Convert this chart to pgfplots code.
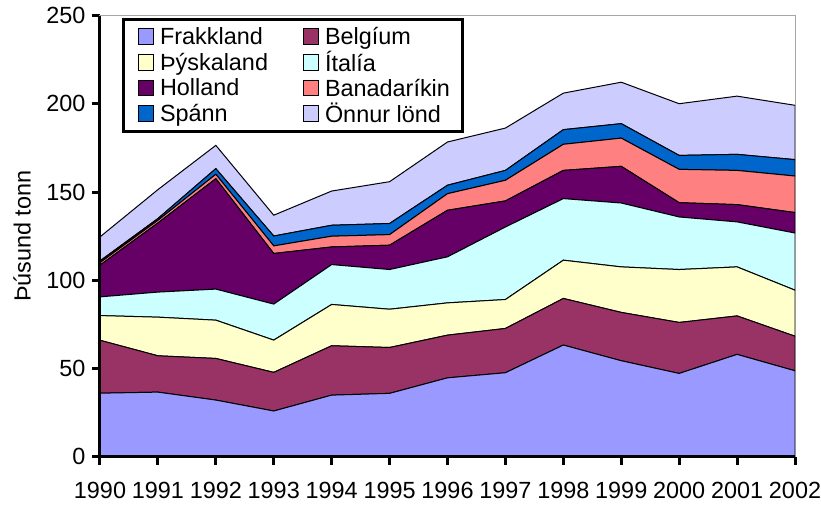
\documentclass[border=0pt]{standalone}
\usepackage{fontspec}
\setmainfont{Liberation Sans}
\usepackage{pgfplots}
\pgfplotsset{compat=1.18}
\usepackage{pgfplotstable}

\definecolor{cF}{HTML}{9999FF}
\definecolor{cB}{HTML}{993366}
\definecolor{cT}{HTML}{FFFFCC}
\definecolor{cI}{HTML}{CCFFFF}
\definecolor{cH}{HTML}{660066}
\definecolor{cBa}{HTML}{FF8080}
\definecolor{cS}{HTML}{0066CC}
\definecolor{cO}{HTML}{CCCCFF}

\pgfplotstableread{
year F    B    T    I    H    Ba   S   O
1990 36.0 30.0 14.0 10.6 18.0 1.4  1.0 13.6
1991 36.6 20.6 21.9 14.2 39.2 1.5  1.0 16.4
1992 32.1 23.6 21.7 17.6 62.6 2.5  3.2 13.2
1993 25.9 21.9 18.3 20.4 28.7 4.3  5.6 11.8
1994 34.9 28.0 23.4 22.6 10.0 6.1  6.2 19.4
1995 35.9 26.0 21.7 22.5 13.8 6.0  6.3 23.7
1996 44.7 24.2 18.3 26.1 26.4 9.4  4.8 24.5
1997 47.6 25.1 16.4 41.1 14.8 11.7 5.6 24.0
1998 63.3 26.4 21.7 34.9 16.0 14.8 8.3 20.7
1999 54.4 27.4 25.8 36.2 20.8 16.0 8.2 23.5
2000 47.2 28.9 30.0 29.8 8.1  18.9 7.9 29.3
2001 58.0 21.8 27.8 25.5 9.8  19.4 9.1 33.0
2002 48.7 19.6 26.1 32.4 11.6 20.7 9.3 30.8
}\data

\newcommand{\bigf}{\fontsize{23.5}{27}\selectfont}

\begin{document}
\begin{tikzpicture}
\useasboundingbox (-100bp,-49.3bp) rectangle (721bp,456.7bp);
\begin{axis}[
  at={(0,0)}, anchor=south west,
  scale only axis, width=695bp, height=441bp,
  xmin=1990, xmax=2002, ymin=0, ymax=250,
  xtick={1990,1991,...,2002}, ytick={0,50,...,250},
  stack plots=y,
  tick pos=left, tick align=outside,
  major tick length=8bp,
  every tick/.append style={black, line width=3bp},
  axis line style={draw=gray!70, line width=1bp},
  /pgf/number format/assume math mode=true,
  tick label style={font=\bigf},
  xticklabel style={/pgf/number format/1000 sep=, yshift=-14bp},
  yticklabel style={xshift=-3bp},
  ylabel={Þúsund tonn},
  label style={font=\bigf},
  ylabel style={at={(axis description cs:-0.1122,0.5)}, anchor=center},
  legend columns=2,
  legend cell align=left,
  legend image code/.code={\draw[#1, draw=black, line width=0.8bp] (0bp,-7.5bp) rectangle (15bp,8bp); \path (-3bp,0bp) (20bp,0bp);},
  legend style={at={(rel axis cs:0.0317,0.994)}, anchor=north west,
    draw=black, line width=3bp, font=\bigf,
    inner xsep=11bp, inner ysep=6bp, row sep=2.5bp,
    nodes={inner sep=1.5bp}},
  after end axis/.code={
    \draw[black, line width=3bp] (rel axis cs:0,1) -- (rel axis cs:0,0) -- (rel axis cs:1,0);
  },
]
\addplot[fill=cF, draw=black, line width=1bp] table[x=year,y=F]{\data} \closedcycle;
\addlegendentry{\makebox[138bp][l]{Frakkland}}
\addplot[fill=cB, draw=black, line width=1bp] table[x=year,y=B]{\data} \closedcycle;
\addlegendentry{Belgíum}
\addplot[fill=cT, draw=black, line width=1bp] table[x=year,y=T]{\data} \closedcycle;
\addlegendentry{\makebox[138bp][l]{Þýskaland}}
\addplot[fill=cI, draw=black, line width=1bp] table[x=year,y=I]{\data} \closedcycle;
\addlegendentry{Ítalía}
\addplot[fill=cH, draw=black, line width=1bp] table[x=year,y=H]{\data} \closedcycle;
\addlegendentry{\makebox[138bp][l]{Holland}}
\addplot[fill=cBa, draw=black, line width=1bp] table[x=year,y=Ba]{\data} \closedcycle;
\addlegendentry{Banadaríkin}
\addplot[fill=cS, draw=black, line width=1bp] table[x=year,y=S]{\data} \closedcycle;
\addlegendentry{\makebox[138bp][l]{Spánn}}
\addplot[fill=cO, draw=black, line width=1bp] table[x=year,y=O]{\data} \closedcycle;
\addlegendentry{Önnur lönd}
\end{axis}
\end{tikzpicture}
\end{document}
